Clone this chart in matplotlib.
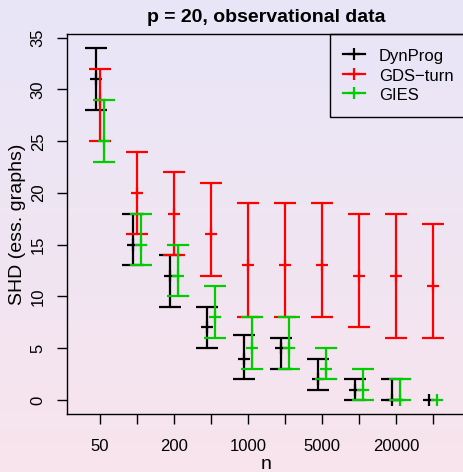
import matplotlib
matplotlib.use("Agg")
import matplotlib.pyplot as plt
import numpy as np
from matplotlib.lines import Line2D

# --- data (SHD, lower / median / upper)
n_labels = ['50', '100', '200', '500', '1000', '2000', '5000', '10000', '20000', '50000']

dyn_lo = [28, 13, 9, 5, 2, 3, 1, 0, 0, 0]
dyn_med = [31, 15, 12, 7, 4, 5, 2, 1, 0, 0]
dyn_hi = [34, 18, 14, 9, 6.3, 6, 4, 2, 2, 0]

gds_lo = [25, 16, 14, 12, 8, 8, 8, 7, 6, 6]
gds_med = [29, 20, 18, 16, 13, 13, 13, 12, 12, 11]
gds_hi = [32, 24, 22, 21, 19, 19, 19, 18, 18, 17]

gies_lo = [23, 13, 10, 6, 3, 3, 2, 0, 0, 0]
gies_med = [25, 15, 12, 8, 5, 5, 3, 1, 0, 0]
gies_hi = [29, 18, 15, 11, 8, 8, 5, 3, 2, 0]

series = [
    ('DynProg', 'black', -0.1, dyn_lo, dyn_med, dyn_hi),
    ('GDS\u2212turn', '#FF0000', 0.0, gds_lo, gds_med, gds_hi),
    ('GIES', '#00CD00', 0.1, gies_lo, gies_med, gies_hi),
]

plt.rcParams['font.family'] = ['Liberation Sans', 'DejaVu Sans']
plt.rcParams['font.size'] = 12

W, H = 463, 472
fig = plt.figure(figsize=(W / 100, H / 100), dpi=100)

# background gradient (lavender at top -> pink at bottom)
bg = fig.add_axes([0, 0, 1, 1], zorder=-10)
top = np.array([232, 230, 248]) / 255
bot = np.array([248, 228, 237]) / 255
t = np.linspace(0, 1, 256)[:, None]
grad = (top[None, :] * (1 - t) + bot[None, :] * t)[:, None, :]
bg.imshow(grad, aspect='auto', extent=[0, 1, 0, 1])
bg.axis('off')

# plot region in pixels: x 66.7 .. 466.3, y 34 .. 414
ax = fig.add_axes([66.7 / W, (H - 414) / H, 399.6 / W, 380 / H])
ax.set_facecolor('none')

x = np.arange(1, len(n_labels) + 1)
lw = 1.6
for name, col, off, lo, med, hi in series:
    lo = np.array(lo, float)
    med = np.array(med, float)
    hi = np.array(hi, float)
    xs = x + off
    m = hi > lo   # zero-length bars are not drawn
    ax.errorbar(xs[m], med[m], yerr=[med[m] - lo[m], hi[m] - med[m]], fmt='none',
                ecolor=col, elinewidth=lw, capsize=7.7, capthick=lw)
    ax.plot(xs, med, linestyle='none', marker='+', markersize=8.5,
            markeredgewidth=lw, color=col)

ax.set_xlim(0.1, 10.9)
ax.set_ylim(-1.36, 35.36)

ax.set_xticks(x)
ax.set_xticklabels([lab if i % 2 == 0 else '' for i, lab in enumerate(n_labels)],
                   va='baseline')
ax.set_yticks(np.arange(0, 36, 5))
ax.set_yticklabels([str(v) for v in range(0, 36, 5)], rotation=90, ha='center',
                   va='baseline', rotation_mode='anchor')
ax.tick_params(axis='x', length=7.2, width=1, pad=19.4, labelsize=12)
ax.tick_params(axis='y', length=7.2, width=1, pad=10, labelsize=12)
for s in ax.spines.values():
    s.set_linewidth(1.0)

fig.text(266 / W, (H - 21.7) / H, 'p = 20, observational data', ha='center',
         va='baseline', fontsize=14, fontweight='bold')
fig.text(266 / W, (H - 469) / H, 'n', ha='center', va='baseline', fontsize=14)
fig.text(22 / W, (H - 224) / H, 'SHD (ess. graphs)', ha='center', va='baseline',
         rotation=90, rotation_mode='anchor', fontsize=14)

handles = [Line2D([], [], color=col, lw=lw, marker='+', markersize=8.5,
                  markeredgewidth=lw) for _, col, *_ in series]
labels = [s[0] for s in series]
leg = ax.legend(handles, labels, loc='upper right', bbox_to_anchor=(1, 1),
                borderaxespad=0, fancybox=False, frameon=True, framealpha=1,
                facecolor='none', edgecolor='black', borderpad=0.78,
                labelspacing=0.15, handleheight=1.2, handlelength=1.32,
                handletextpad=0.85, fontsize=12)
leg.get_frame().set_linewidth(1.0)

fig.savefig('out.png', dpi=100)
